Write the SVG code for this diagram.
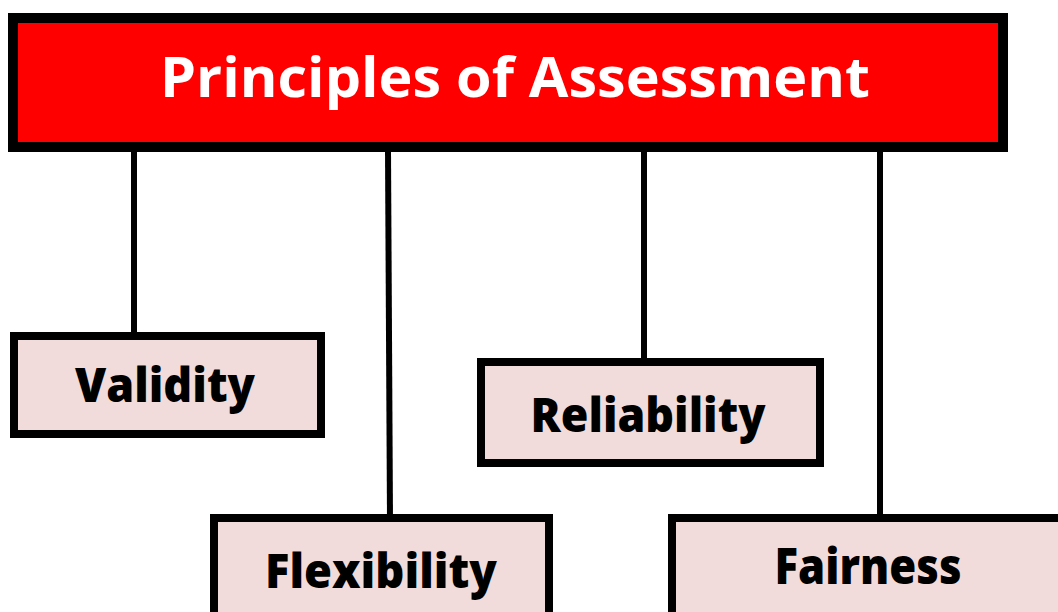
<svg xmlns="http://www.w3.org/2000/svg" width="1058" height="612" viewBox="0 0 1058 612">
  <style>
    .box { fill: #F2DCDB; stroke: #000; stroke-width: 8; }
    .title-box { fill: #FF0000; stroke: #000; stroke-width: 10; }
    .label { font-family: "Open Sans", "Liberation Sans", sans-serif; font-weight: 800; fill: #000; }
    .title { font-family: "Open Sans", "Liberation Sans", sans-serif; font-weight: 700; fill: #fff; }
    .link { stroke: #000; stroke-width: 6; fill: none; }
  </style>
  <rect width="1058" height="612" fill="#fff"/>

  <!-- connectors from the heading down to each principle -->
  <g id="connectors">
    <line class="link" x1="134" y1="150" x2="134" y2="336"/>
    <line class="link" x1="388" y1="150" x2="390" y2="520"/>
    <line class="link" x1="644" y1="150" x2="644" y2="362"/>
    <line class="link" x1="880" y1="150" x2="880" y2="516"/>
  </g>

  <g id="title">
    <rect class="title-box" x="13" y="18" width="990" height="129"/>
    <text class="title" x="515" y="97" font-size="56" text-anchor="middle" textLength="710" lengthAdjust="spacingAndGlyphs">Principles of Assessment</text>
  </g>

  <g id="validity">
    <rect class="box" x="14" y="336" width="307" height="98"/>
    <text class="label" x="165" y="402" font-size="48" text-anchor="middle" textLength="180" lengthAdjust="spacingAndGlyphs">Validity</text>
  </g>

  <g id="reliability">
    <rect class="box" x="481" y="362" width="339" height="101"/>
    <text class="label" x="648" y="432" font-size="48" text-anchor="middle" textLength="235" lengthAdjust="spacingAndGlyphs">Reliability</text>
  </g>

  <g id="flexibility">
    <rect class="box" x="214" y="518" width="335" height="110"/>
    <text class="label" x="381" y="588" font-size="47" text-anchor="middle" textLength="232" lengthAdjust="spacingAndGlyphs">Flexibility</text>
  </g>

  <g id="fairness">
    <rect class="box" x="672" y="518" width="400" height="110"/>
    <text class="label" x="868" y="584" font-size="50" text-anchor="middle" textLength="187" lengthAdjust="spacingAndGlyphs">Fairness</text>
  </g>
</svg>
